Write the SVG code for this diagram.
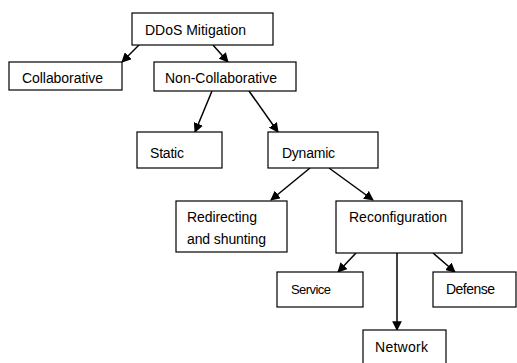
<svg xmlns="http://www.w3.org/2000/svg" width="517" height="363" viewBox="0 0 517 363">
  <style>
    .box { fill: #ffffff; stroke: #000000; stroke-width: 1.2; }
    .lbl { font-family: "Liberation Sans", Arial, sans-serif; font-size: 14px; fill: #000000; }
    .small { font-size: 13px; }
    .edge { stroke: #000000; stroke-width: 1.5; fill: none; marker-end: url(#arrow); }
  </style>
  <defs>
    <marker id="arrow" viewBox="0 0 10 10" refX="9" refY="5" markerWidth="6.5" markerHeight="6.5" orient="auto" markerUnits="strokeWidth">
      <path d="M0,0 L10,5 L0,10 Z" fill="#000000"/>
    </marker>
  </defs>
  <rect width="517" height="363" fill="#ffffff"/>

  <g id="connectors">
    <line class="edge" x1="139" y1="45" x2="122" y2="62"/>
    <line class="edge" x1="213" y1="45" x2="228" y2="62"/>
    <line class="edge" x1="212" y1="91" x2="195" y2="132"/>
    <line class="edge" x1="249" y1="91" x2="278" y2="132"/>
    <line class="edge" x1="310" y1="168" x2="271" y2="200"/>
    <line class="edge" x1="329" y1="168" x2="373" y2="200"/>
    <line class="edge" x1="356" y1="253" x2="338" y2="272"/>
    <line class="edge" x1="397" y1="253" x2="397" y2="330"/>
    <line class="edge" x1="433" y1="253" x2="455" y2="272"/>
  </g>

  <g id="ddos-mitigation">
    <rect class="box" x="132" y="13" width="141" height="32"/>
    <text class="lbl" x="145" y="35" textLength="101">DDoS Mitigation</text>
  </g>
  <g id="collaborative">
    <rect class="box" x="9" y="62" width="113" height="28"/>
    <text class="lbl" x="22" y="83" textLength="81">Collaborative</text>
  </g>
  <g id="non-collaborative">
    <rect class="box" x="154" y="62" width="142" height="29"/>
    <text class="lbl" x="165" y="83" textLength="112">Non-Collaborative</text>
  </g>
  <g id="static">
    <rect class="box" x="137" y="132" width="85" height="36"/>
    <text class="lbl" x="150" y="158" textLength="34">Static</text>
  </g>
  <g id="dynamic">
    <rect class="box" x="268" y="132" width="110" height="36"/>
    <text class="lbl" x="282" y="158" textLength="53">Dynamic</text>
  </g>
  <g id="redirecting">
    <rect class="box" x="176" y="201" width="111" height="51"/>
    <text class="lbl" x="187" y="222" textLength="70">Redirecting</text>
    <text class="lbl" x="187" y="244" textLength="79">and shunting</text>
  </g>
  <g id="reconfiguration">
    <rect class="box" x="336" y="201" width="126" height="52"/>
    <text class="lbl" x="349" y="222" textLength="98">Reconfiguration</text>
  </g>
  <g id="service">
    <rect class="box" x="277" y="272" width="86" height="35"/>
    <text class="lbl small" x="291" y="294" textLength="40">Service</text>
  </g>
  <g id="defense">
    <rect class="box" x="433" y="272" width="83" height="35"/>
    <text class="lbl" x="446" y="294" textLength="49">Defense</text>
  </g>
  <g id="network">
    <rect class="box" x="363" y="330" width="83" height="40"/>
    <text class="lbl" x="375" y="352" textLength="53">Network</text>
  </g>
</svg>
